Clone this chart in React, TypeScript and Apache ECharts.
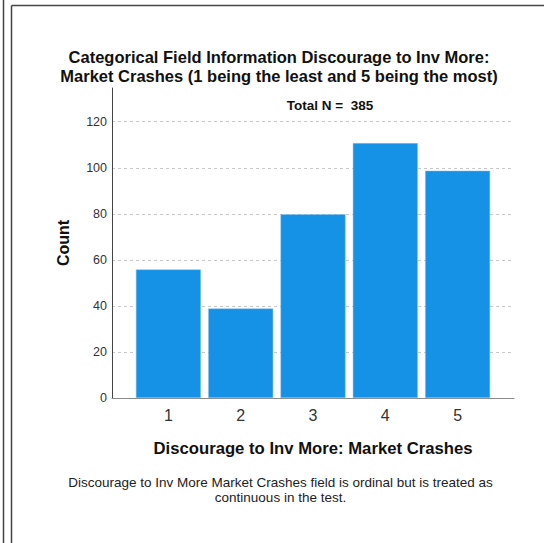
import React, { useEffect, useRef } from "react";
import * as echarts from "echarts";

const categories = [1, 2, 3, 4, 5];
const counts = [56, 39, 80, 111, 99];
const totalN = 385;
const titleLines = [
  "Categorical Field Information Discourage to Inv More:",
  "Market Crashes (1 being the least and 5 being the most)",
];
const xAxisTitle = "Discourage to Inv More: Market Crashes";
const yAxisTitle = "Count";
const footnoteLines = [
  "Discourage to Inv More Market Crashes field is ordinal but is treated as",
  "continuous in the test.",
];

const FONT = "'Liberation Sans', Arial, sans-serif";

export default function App() {
  const ref = useRef<HTMLDivElement>(null);
  useEffect(() => {
    if (!ref.current) return;
    const chart = echarts.init(ref.current, undefined, { renderer: "svg" });
    const option: any = {
      animation: false,
      backgroundColor: "#ffffff",
      textStyle: { fontFamily: FONT },
      grid: [
        { left: 112, right: 30, top: 88, bottom: 145 },
        { left: 112, right: 30, top: 121.7, bottom: 145 },
      ],
      xAxis: [
        {
          type: "value",
          gridIndex: 0,
          min: 0.22,
          max: 5.78,
          axisLine: { show: true, lineStyle: { color: "#8a8a8a", width: 1 } },
          axisTick: { show: false },
          splitLine: { show: false },
          axisLabel: {
            color: "#333",
            fontSize: 16,
            fontFamily: FONT,
            margin: 9,
            customValues: categories,
          },
          name: xAxisTitle,
          nameLocation: "middle",
          nameGap: 42,
          nameTextStyle: { color: "#111", fontSize: 16.7, fontWeight: "bold", fontFamily: FONT },
        },
        {
          type: "value",
          gridIndex: 1,
          min: 0.22,
          max: 5.78,
          show: false,
        },
      ],
      yAxis: [
        {
          type: "value",
          gridIndex: 0,
          min: 0,
          max: 135,
          axisLine: { show: true, lineStyle: { color: "#444", width: 1 } },
          axisTick: { show: false },
          axisLabel: { show: false },
          splitLine: { show: false },
          name: yAxisTitle,
          nameLocation: "middle",
          nameGap: 41,
          nameTextStyle: { color: "#111", fontSize: 16, fontWeight: "bold", fontFamily: FONT },
        },
        {
          type: "value",
          gridIndex: 1,
          min: 0,
          max: 120,
          interval: 20,
          axisLine: { show: false },
          axisTick: { show: false },
          axisLabel: { color: "#333", fontSize: 12.5, fontFamily: FONT, margin: 5 },
          splitLine: { show: true, lineStyle: { color: "#c8c8c8", type: [3, 3], width: 1 } },
        },
      ],
      series: [
        {
          type: "bar",
          xAxisIndex: 0,
          yAxisIndex: 0,
          barWidth: 65,
          z: 3,
          itemStyle: { color: "#1591E6", borderColor: "#8cc6f0", borderWidth: 0.5 },
          data: categories.map((c, i) => [c, counts[i]]),
        },
      ],
      graphic: [
        { type: "line", shape: { x1: 3.5, y1: 0, x2: 3.5, y2: 543 }, style: { stroke: "#444", lineWidth: 1.5 } },
        { type: "line", shape: { x1: 11.5, y1: 5.5, x2: 11.5, y2: 543 }, style: { stroke: "#444", lineWidth: 1.5 } },
        { type: "line", shape: { x1: 11.5, y1: 5.5, x2: 544, y2: 5.5 }, style: { stroke: "#444", lineWidth: 1.5 } },
        {
          type: "text",
          x: 279,
          y: 57,
          style: {
            text: titleLines[0],
            align: "center",
            verticalAlign: "middle",
            font: `bold 16.5px ${FONT}`,
            fill: "#111",
          },
        },
        {
          type: "text",
          x: 279,
          y: 75.5,
          style: {
            text: titleLines[1],
            align: "center",
            verticalAlign: "middle",
            font: `bold 16.5px ${FONT}`,
            fill: "#111",
          },
        },
        {
          type: "text",
          x: 330,
          y: 105,
          style: {
            text: `Total N =  ${totalN}`,
            align: "center",
            verticalAlign: "middle",
            font: `bold 13.5px ${FONT}`,
            fill: "#111",
          },
        },
        {
          type: "text",
          x: 280.5,
          y: 482,
          style: {
            text: footnoteLines[0],
            align: "center",
            verticalAlign: "middle",
            font: `13.5px ${FONT}`,
            fill: "#222",
          },
        },
        {
          type: "text",
          x: 280.5,
          y: 497,
          style: {
            text: footnoteLines[1],
            align: "center",
            verticalAlign: "middle",
            font: `13.5px ${FONT}`,
            fill: "#222",
          },
        },
      ],
    };
    chart.setOption(option);
    return () => chart.dispose();
  }, []);
  return (
    <div
      ref={ref}
      style={{ position: "fixed", left: 0, top: 0, width: 544, height: 543 }}
    />
  );
}
